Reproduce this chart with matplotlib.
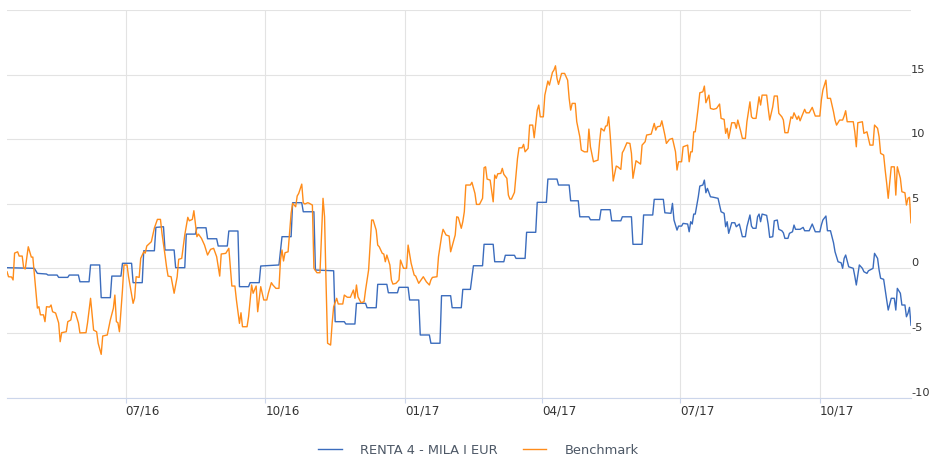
import pandas as pd
import matplotlib
matplotlib.use("Agg")
import matplotlib.pyplot as plt
import matplotlib.dates as mdates
from matplotlib.lines import Line2D

# Performance (%) since 2016-04-14
START = "2016-04-14"
END_DAY = 595

# RENTA 4 - MILA I EUR (days since START, value %)
fund_days = [0, 18, 20, 26, 27, 33, 34, 40, 41, 47, 48, 54, 55, 61, 62, 68, 69, 75, 76, 82,
             83, 89, 90, 97, 98, 103, 104, 110, 111, 117, 118, 124, 125, 131, 132, 138, 139, 145, 146, 152,
             153, 159, 160, 166, 167, 179, 181, 187, 188, 194, 195, 202, 203, 215, 216, 222, 223, 229, 230, 236,
             237, 243, 244, 250, 251, 257, 258, 264, 265, 271, 272, 278, 279, 285, 286, 292, 293, 299, 300, 305,
             307, 313, 314, 320, 321, 327, 328, 334, 335, 341, 342, 348, 349, 355, 356, 362, 363, 370, 371, 376,
             377, 383, 384, 390, 391, 397, 398, 404, 405, 411, 412, 418, 419, 425, 426, 432, 433, 437, 438, 439,
             441, 442, 444, 445, 448, 449, 450, 451, 452, 453, 455, 456, 458, 459, 460, 461, 463, 465, 468, 470,
             472, 473, 474, 475, 477, 479, 480, 482, 483, 484, 486, 487, 489, 490, 491, 493, 494, 495, 496, 497,
             500, 501, 502, 504, 505, 507, 508, 510, 511, 512, 514, 515, 517, 518, 519, 522, 524, 525, 528, 530,
             532, 535, 536, 537, 539, 540, 542, 544, 545, 547, 549, 550, 551, 552, 554, 557, 558, 559, 561, 563,
             564, 566, 567, 570, 571, 573, 574, 575, 577, 578, 579, 580, 582, 584, 585, 586, 588, 589, 591, 592,
             593, 594, 595]
fund_vals = [0.05, 0.0, -0.39, -0.44, -0.52, -0.52, -0.7, -0.7, -0.52, -0.52, -1.04, -1.04, 0.26, 0.26, -2.27, -2.27, -0.6, -0.6, 0.39, 0.39,
             -1.11, -1.11, 1.36, 1.36, 3.17, 3.22, 1.42, 1.42, 0.05, 0.05, 2.65, 2.65, 3.14, 3.14, 2.29, 2.29, 1.73, 1.73, 2.89, 2.89,
             -1.42, -1.42, -1.11, -1.11, 0.18, 0.26, 2.45, 2.45, 5.08, 5.08, 4.38, 4.38, -0.13, -0.19, -4.13, -4.13, -4.31, -4.31, -2.71, -2.71,
             -3.05, -3.05, -1.24, -1.24, -1.89, -1.89, -1.47, -1.47, -2.45, -2.45, -5.16, -5.16, -5.8, -5.8, -2.12, -2.12, -3.05, -3.05, -1.63, -1.63,
             0.2, 0.2, 1.86, 1.86, 0.51, 0.51, 1.01, 1.01, 0.77, 0.77, 2.79, 2.79, 5.11, 5.11, 6.91, 6.91, 6.45, 6.45, 5.23, 5.23,
             3.99, 3.99, 3.76, 3.76, 4.54, 4.54, 3.68, 3.68, 3.99, 3.99, 1.86, 1.86, 4.13, 4.13, 5.34, 5.34, 4.3, 4.26, 5.03, 3.74,
             2.96, 3.27, 3.27, 3.48, 3.43, 2.83, 3.61, 3.43, 4.2, 4.2, 5.54, 6.37, 6.45, 6.83, 5.85, 6.19, 5.54, 5.5, 5.42, 4.38,
             4.26, 3.22, 3.61, 2.71, 3.53, 3.53, 3.22, 3.43, 2.96, 2.45, 2.45, 3.22, 4.13, 3.27, 3.1, 3.1, 3.99, 4.2, 3.61, 4.2,
             4.1, 3.4, 2.4, 2.45, 3.68, 3.74, 3.02, 2.91, 2.75, 2.32, 2.32, 2.71, 2.83, 3.35, 3.02, 3.02, 3.17, 2.91, 2.91, 3.43,
             2.83, 2.83, 3.35, 3.74, 4.05, 2.91, 2.91, 1.98, 1.28, 0.51, 0.43, 0.0, 0.77, 1.03, 0.12, 0.0, -0.6, -1.29, 0.26, 0.0,
             -0.26, -0.39, -0.19, 0.0, 1.16, 0.77, -0.13, -0.77, -0.85, -1.68, -2.45, -3.23, -2.32, -2.32, -3.23, -1.55, -1.93, -2.84, -2.84, -3.75,
             -3.48, -3.02, -4.4]

# Benchmark (days since START, value %)
bench_days = [0, 1, 3, 4, 5, 7, 8, 10, 11, 12, 14, 16, 17, 20, 21, 22, 24, 25, 26, 28,
              29, 30, 32, 34, 35, 36, 39, 40, 42, 43, 45, 47, 48, 52, 53, 55, 57, 59, 60, 62,
              63, 66, 68, 70, 71, 72, 73, 74, 76, 77, 79, 80, 83, 84, 85, 87, 88, 90, 91, 92,
              95, 97, 99, 101, 102, 104, 105, 106, 108, 110, 112, 113, 115, 117, 119, 120, 122, 123, 125, 126,
              128, 130, 132, 134, 136, 138, 140, 141, 144, 146, 148, 150, 151, 153, 154, 155, 158, 159, 161, 162,
              164, 165, 167, 169, 171, 172, 174, 175, 177, 179, 180, 181, 182, 183, 185, 187, 188, 190, 191, 192,
              194, 195, 196, 198, 199, 201, 202, 204, 206, 208, 209, 210, 211, 213, 214, 215, 217, 218, 221, 222,
              224, 226, 228, 229, 230, 231, 233, 235, 236, 238, 240, 241, 243, 244, 245, 247, 248, 249, 250, 252,
              253, 254, 256, 258, 259, 261, 263, 264, 266, 268, 269, 271, 274, 276, 278, 279, 280, 283, 284, 286,
              287, 289, 291, 292, 295, 296, 297, 299, 300, 301, 302, 305, 306, 307, 308, 309, 311, 313, 314, 315,
              316, 318, 320, 321, 322, 323, 325, 326, 327, 329, 330, 331, 332, 334, 336, 337, 339, 340, 341, 343,
              344, 346, 347, 349, 350, 351, 353, 354, 356, 357, 359, 360, 361, 362, 363, 365, 367, 369, 370, 371,
              372, 374, 375, 377, 378, 380, 382, 383, 384, 386, 387, 389, 390, 391, 393, 394, 395, 396, 397, 399,
              401, 402, 404, 405, 406, 408, 410, 411, 412, 414, 417, 418, 420, 421, 424, 426, 427, 428, 430, 431,
              433, 434, 436, 438, 440, 441, 442, 444, 445, 448, 449, 450, 451, 452, 453, 455, 456, 458, 459, 460,
              462, 463, 465, 467, 469, 470, 472, 473, 474, 475, 477, 479, 480, 481, 483, 484, 486, 487, 489, 490,
              491, 493, 494, 495, 496, 497, 500, 501, 502, 504, 505, 507, 508, 510, 511, 512, 514, 516, 517, 518,
              520, 521, 522, 523, 525, 526, 528, 530, 532, 535, 536, 537, 539, 540, 542, 544, 545, 546, 548, 550,
              551, 552, 553, 557, 558, 559, 560, 563, 564, 566, 567, 568, 570, 571, 573, 574, 575, 577, 578, 579,
              580, 582, 584, 585, 586, 588, 589, 591, 592, 593, 594, 595]
bench_vals = [-0.26, -0.65, -0.67, -0.9, 1.18, 1.28, 0.95, 0.95, 0.02, -0.05, 1.67, 0.87, 0.87, -3.08, -2.97, -3.6, -3.6, -4.13, -2.97, -3.0,
              -2.84, -3.36, -3.46, -4.23, -5.68, -4.98, -4.91, -4.13, -4.0, -3.36, -3.44, -4.23, -5.0, -4.98, -4.23, -2.32, -4.78, -4.91, -5.8, -6.66,
              -5.24, -5.16, -4.0, -3.1, -2.07, -4.13, -4.21, -4.91, -1.68, 0.26, 0.26, -0.65, -2.71, -2.3, -0.65, -0.7, 0.77, 1.28, 1.18, 1.73,
              2.06, 3.12, 3.79, 3.79, 2.71, 1.03, 0.12, -0.6, -0.65, -1.93, -0.65, 0.7, 0.77, 2.58, 3.95, 3.68, 3.79, 4.46, 2.45, 2.65,
              2.32, 1.8, 1.03, 1.47, 1.55, 0.9, -0.6, 1.11, 1.16, 1.55, -1.37, -1.37, -2.45, -4.26, -3.44, -4.52, -4.52, -3.75, -1.29, -1.93,
              -1.37, -3.36, -1.42, -2.45, -2.45, -1.93, -1.11, -1.29, -1.55, -1.55, 0.64, 1.42, 0.57, 1.21, 1.28, 4.26, 5.03, 4.77, 5.6, 5.8,
              6.52, 5.08, 4.98, 5.08, 5.03, 4.9, 0.0, -0.34, -0.34, 5.42, 4.0, -1.16, -5.8, -5.94, -4.26, -2.97, -2.32, -2.76, -2.76, -2.07,
              -2.24, -2.24, -1.68, -2.32, -1.29, -2.2, -2.66, -2.59, -1.68, -0.13, 3.74, 3.74, 2.96, 1.8, 1.67, 1.16, 1.11, 0.51, 1.03, 0.26,
              -0.9, -1.22, -1.16, -0.9, 0.64, 0.0, 0.0, 1.8, 0.39, -0.52, -0.6, -1.16, -0.65, -1.04, -1.29, -0.9, -0.7, -0.65, 0.9, 2.45,
              3.02, 2.58, 2.5, 1.28, 2.58, 3.99, 3.95, 3.1, 3.61, 4.38, 6.45, 6.45, 6.66, 6.24, 5.8, 4.95, 4.95, 5.42, 7.79, 7.86,
              6.91, 6.83, 5.15, 7.22, 6.97, 7.32, 7.35, 7.74, 7.28, 6.97, 5.67, 5.36, 5.36, 5.88, 8.51, 9.33, 9.33, 9.6, 9.02, 9.29,
              11.09, 11.09, 10.11, 12.25, 12.64, 11.73, 11.73, 13.41, 14.5, 14.19, 15.17, 15.35, 15.68, 14.71, 14.24, 15.09, 15.09, 14.57, 13.16, 12.25,
              12.77, 12.77, 11.35, 10.19, 9.16, 9.02, 9.02, 10.78, 9.41, 8.25, 8.3, 8.38, 9.75, 10.84, 10.63, 11.01, 11.04, 11.73, 10.32, 6.76,
              7.92, 7.86, 7.66, 8.95, 9.16, 9.72, 9.67, 8.9, 6.97, 8.33, 8.07, 9.54, 9.8, 10.32, 10.39, 11.22, 10.7, 10.96, 11.01, 11.42,
              10.32, 9.67, 9.98, 10.06, 9.02, 7.61, 8.25, 8.25, 9.41, 9.54, 8.25, 9.02, 9.02, 10.57, 10.57, 12.51, 13.59, 13.67, 14.11, 12.82,
              13.41, 12.38, 12.31, 12.38, 12.72, 11.61, 11.53, 10.45, 10.84, 10.06, 11.27, 11.27, 10.84, 11.48, 10.57, 10.06, 10.06, 11.35, 12.89, 11.73,
              11.61, 11.61, 12.46, 13.28, 12.64, 13.41, 13.41, 12.4, 11.48, 12.51, 13.34, 13.34, 12.0, 11.73, 11.48, 10.5, 10.5, 11.73, 11.61, 12.04,
              11.53, 11.79, 11.42, 11.73, 12.31, 12.04, 12.04, 12.46, 11.79, 11.79, 13.03, 13.8, 14.57, 13.16, 13.16, 12.12, 11.48, 11.09, 11.48, 11.48,
              11.79, 12.2, 11.35, 11.35, 10.57, 9.41, 11.27, 11.35, 10.45, 10.57, 10.06, 9.54, 9.54, 11.09, 10.84, 10.19, 8.9, 8.77, 7.61, 6.58,
              5.42, 7.86, 7.86, 5.67, 7.86, 6.97, 5.93, 5.85, 4.9, 5.42, 5.5, 3.53]

x_ticks = ["2016-07-01", "2016-10-01", "2017-01-01", "2017-04-01", "2017-07-01", "2017-10-01"]
y_ticks = [-10, -5, 0, 5, 10, 15, 20]
y_labels = ["-10", "-5", "0", "5", "10", "15", ""]
series_names = ["RENTA 4 - MILA I EUR", "Benchmark"]

BLUE = "#3b6cbd"
ORANGE = "#ff8c1a"
GRID = "#e3e3e3"
AXIS = "#ccd6eb"
TEXT = "#333333"


def to_dates(days):
    return pd.Timestamp(START) + pd.to_timedelta(days, unit="D")


def main():
    plt.rcParams["font.family"] = ["DejaVu Sans"]
    fig = plt.figure(figsize=(9.3, 4.59), dpi=100)
    ax = fig.add_axes([7 / 930, 61.5 / 459, 904 / 930, 387.5 / 459])

    ax.plot(to_dates(fund_days), fund_vals, color=BLUE, lw=1.0, zorder=3)
    ax.plot(to_dates(bench_days), bench_vals, color=ORANGE, lw=1.0, zorder=4)

    ax.set_xlim(pd.Timestamp(START), to_dates([END_DAY])[0])
    ax.set_ylim(-10, 20)

    ax.set_xticks(pd.to_datetime(x_ticks))
    ax.xaxis.set_major_formatter(mdates.DateFormatter("%m/%y"))
    ax.tick_params(axis="x", length=3.6, width=0.8, color=AXIS, pad=1.5,
                   labelsize=8.6, labelcolor=TEXT)
    for lab in ax.get_xticklabels():
        lab.set_horizontalalignment("left")

    ax.set_yticks(y_ticks)
    ax.set_yticklabels(y_labels)
    ax.yaxis.tick_right()
    ax.tick_params(axis="y", length=0, pad=0, labelsize=8.2, labelcolor=TEXT)
    for lab in ax.get_yticklabels():
        lab.set_verticalalignment("bottom")

    ax.grid(True, color=GRID, lw=0.8, zorder=0)
    for side in ["top", "left", "right"]:
        ax.spines[side].set_visible(False)
    ax.spines["bottom"].set_color(AXIS)
    ax.spines["bottom"].set_linewidth(0.8)

    handles = [Line2D([], [], color=BLUE, lw=1.0), Line2D([], [], color=ORANGE, lw=1.0)]
    fig.legend(handles, series_names, loc="center", bbox_to_anchor=(0.5145, 0.0196),
               ncol=2, frameon=False, fontsize=9.4, handlelength=1.77,
               handletextpad=1.38, columnspacing=2.0, labelcolor="#4d5866")

    fig.savefig("out.png", dpi=100)


if __name__ == "__main__":
    main()
